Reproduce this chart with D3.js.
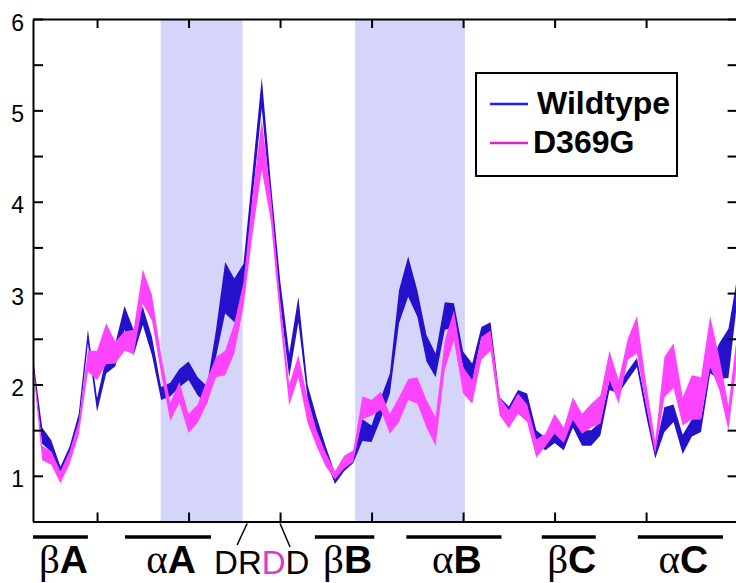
<!DOCTYPE html>
<html>
<head>
<meta charset="utf-8">
<script src="https://cdn.jsdelivr.net/npm/d3@7"></script>
<style>
  body { margin: 0; background: #fff; }
  svg { display: block; }
</style>
</head>
<body>
<svg id="chart" width="736" height="583"></svg>
<script>
// Residue positions along the segment (index from the first residue shown)
const residues = d3.range(78);

// Wildtype envelope (lower / upper bound per residue)
const wtLow  = [2.20,1.35,1.26,1.00,1.20,1.55,2.45,1.70,2.12,2.20,2.60,2.32,2.65,2.32,1.83,1.87,1.97,2.05,1.88,1.78,
                2.30,2.78,2.68,2.95,4.05,5.02,3.95,2.90,2.08,2.68,1.85,1.47,1.17,0.91,1.05,1.14,1.38,1.37,1.62,1.90,
                2.67,2.96,2.74,2.25,2.08,2.60,2.62,2.19,2.03,2.52,2.55,1.70,1.62,1.80,1.76,1.35,1.28,1.36,1.28,1.53,
                1.33,1.33,1.44,1.94,1.90,2.05,2.19,1.66,1.19,1.48,1.59,1.24,1.43,1.48,2.12,2.06,2.07,2.95];
const wtHigh = [2.30,1.53,1.39,1.10,1.32,1.68,2.60,1.85,2.30,2.45,2.86,2.60,2.85,2.52,1.97,2.02,2.17,2.25,2.08,1.98,
                2.60,3.34,3.16,3.32,4.33,5.36,4.20,3.15,2.34,2.96,2.00,1.64,1.32,1.03,1.15,1.22,1.62,1.55,1.85,2.12,
                3.03,3.40,3.03,2.54,2.34,2.90,2.89,2.36,2.23,2.63,2.68,1.86,1.76,1.94,1.90,1.50,1.42,1.50,1.42,1.64,
                1.50,1.50,1.59,2.05,2.00,2.15,2.29,1.78,1.30,1.75,1.78,1.45,1.62,1.62,2.22,2.45,2.61,3.20];

// D369G envelope (lower / upper bound per residue)
const mutLow  = [2.18,1.17,1.12,0.92,1.13,1.45,2.14,2.05,2.22,2.23,2.37,2.33,2.88,2.70,2.12,1.60,1.80,1.47,1.58,1.79,
                 2.08,2.10,2.34,2.85,3.65,4.35,3.78,2.72,1.77,2.08,1.58,1.32,1.10,0.96,1.08,1.15,1.62,1.66,1.72,1.46,
                 1.59,1.83,1.79,1.53,1.33,2.16,2.48,1.90,1.79,2.27,2.37,1.66,1.52,1.68,1.59,1.20,1.32,1.46,1.36,1.61,
                 1.46,1.53,1.57,2.05,1.79,2.27,2.34,1.76,1.24,1.86,1.96,1.55,1.62,1.62,2.19,1.94,1.50,2.30];
const mutHigh = [2.28,1.33,1.27,1.05,1.27,1.60,2.37,2.37,2.67,2.47,2.58,2.60,3.26,2.98,2.32,1.80,2.03,1.68,1.78,2.05,
                 2.30,2.37,2.67,3.12,4.08,4.90,4.08,2.95,2.00,2.32,1.85,1.50,1.25,1.05,1.22,1.28,1.87,1.83,1.92,1.68,
                 1.86,2.06,2.08,1.83,1.64,2.48,2.81,2.19,2.05,2.52,2.59,1.86,1.72,1.90,1.78,1.40,1.46,1.68,1.53,1.86,
                 1.68,1.79,1.88,2.37,2.05,2.50,2.75,2.02,1.38,2.30,2.45,1.86,2.10,2.08,2.75,2.30,1.77,2.60];

// Shaded residue ranges
const shadeFrom = [13.95, 35.2];
const shadeTo   = [22.9, 47.2];

// Secondary structure elements
const ssGreek  = ["β", "α", "β", "α", "β", "α"];
const ssLetter = ["A", "A", "B", "B", "C", "C"];
const ssFrom   = [0.0, 10.05, 30.8, 40.8, 55.6, 66.1];
const ssTo     = [6.0, 19.45, 37.3, 51.2, 61.5, 75.4];

// DRDD motif (third residue highlighted)
const motif = ["D", "R", "D", "D"];
const motifHighlight = 2;
const motifFrom = 23.4, motifTo = 27.0, motifCenter = 25;

// Axis ticks
const yTicks = d3.range(0.5, 6.01, 0.5);
const xTicks = [7, 17, 27, 37, 47, 57, 67];

// Legend
const seriesNames = ["Wildtype", "D369G"];

const colors = {
  wt: "#2311cc",
  mut: "#ff44ff",
  wtLegend: "#1f1fff",
  mutLegend: "#dd22cc",
  shade: "#d5d5fa",
  motifHi: "#d63cc8"
};

(function draw() {
  const svg = d3.select("#chart");
  const pLeft = 33, pTop = 19, pRight = 737.6, pBottom = 521.5;

  const x = d3.scaleLinear().domain([0, 77]).range([pLeft, pRight]);
  const y = d3.scaleLinear().domain([0.5, 6]).range([pBottom, pTop]);

  svg.append("defs").append("clipPath").attr("id", "plot")
    .append("rect").attr("x", pLeft).attr("y", pTop)
    .attr("width", pRight - pLeft).attr("height", pBottom - pTop);

  // Shaded helix regions
  svg.append("g").selectAll("rect").data(shadeFrom).join("rect")
    .attr("x", (d) => x(d))
    .attr("y", pTop)
    .attr("width", (d, i) => x(shadeTo[i]) - x(d))
    .attr("height", pBottom - pTop)
    .attr("fill", colors.shade);

  // Envelopes
  const band = (lo, hi) => d3.area()
    .x((d) => x(d))
    .y0((d) => y(lo[d]))
    .y1((d) => y(hi[d]));

  const plot = svg.append("g").attr("clip-path", "url(#plot)");
  plot.append("path").datum(residues).attr("d", band(wtLow, wtHigh)).attr("fill", colors.wt);
  plot.append("path").datum(residues).attr("d", band(mutLow, mutHigh)).attr("fill", colors.mut);

  // Axes
  const fontSans = "'Liberation Sans', Arial, Helvetica, sans-serif";
  const axisStyle = (g) => {
    g.selectAll(".domain").attr("stroke", "#000").attr("stroke-width", 2);
    g.selectAll(".tick line").attr("stroke", "#000").attr("stroke-width", 2);
  };

  svg.append("g").attr("transform", `translate(${pLeft},0)`)
    .call(d3.axisLeft(y).tickValues(yTicks).tickSize(-10).tickSizeOuter(0).tickPadding(9)
      .tickFormat((d) => Number.isInteger(d) ? d : ""))
    .call(axisStyle)
    .call((g) => g.selectAll("text").attr("font-family", fontSans).attr("font-size", 23)
      .attr("fill", "#000").attr("dy", "0.48em"));

  svg.append("g").attr("transform", `translate(${pRight},0)`)
    .call(d3.axisRight(y).tickValues(yTicks).tickSize(-10).tickSizeOuter(0).tickFormat(""))
    .call(axisStyle);

  svg.append("g").attr("transform", `translate(0,${pTop})`)
    .call(d3.axisTop(x).tickValues(xTicks).tickSize(-9).tickSizeOuter(0).tickFormat(""))
    .call(axisStyle);

  svg.append("g").attr("transform", `translate(0,${pBottom})`)
    .call(d3.axisBottom(x).tickValues(xTicks).tickSize(-9).tickSizeOuter(0).tickFormat(""))
    .call(axisStyle);

  // Legend
  const legend = svg.append("g");
  legend.append("rect").attr("x", 476).attr("y", 73).attr("width", 201).attr("height", 103)
    .attr("fill", "#fff").attr("stroke", "#000").attr("stroke-width", 2);
  const legendColors = [colors.wtLegend, colors.mutLegend];
  const legendY = [104, 143];
  const legendTextX = [537, 533];
  seriesNames.forEach((name, i) => {
    legend.append("line").attr("x1", 490).attr("x2", 528)
      .attr("y1", legendY[i]).attr("y2", legendY[i])
      .attr("stroke", legendColors[i]).attr("stroke-width", 2.5);
    legend.append("text").attr("x", legendTextX[i]).attr("y", legendY[i] + 10)
      .attr("font-family", fontSans).attr("font-weight", "bold").attr("font-size", 32)
      .attr("fill", "#000").text(name);
  });

  // Secondary structure bars and labels
  const ss = svg.append("g");
  ssFrom.forEach((from, i) => {
    ss.append("line").attr("x1", x(from)).attr("x2", x(ssTo[i]))
      .attr("y1", 537).attr("y2", 537).attr("stroke", "#000").attr("stroke-width", 3.3);
    const t = ss.append("text")
      .attr("x", (x(from) + x(ssTo[i])) / 2 + 3).attr("y", 573)
      .attr("text-anchor", "middle").attr("fill", "#000");
    t.append("tspan").attr("font-family", "'Liberation Serif', 'Times New Roman', serif")
      .attr("font-size", 41).text(ssGreek[i]);
    t.append("tspan").attr("font-family", fontSans).attr("font-weight", "bold")
      .attr("font-size", 39).text(ssLetter[i]);
  });

  // DRDD motif label with leader lines
  ss.append("line").attr("x1", x(motifFrom)).attr("y1", pBottom + 2)
    .attr("x2", x(motifFrom) - 10).attr("y2", 545).attr("stroke", "#000").attr("stroke-width", 1.5);
  ss.append("line").attr("x1", x(motifTo)).attr("y1", pBottom + 2)
    .attr("x2", x(motifTo) + 10).attr("y2", 547).attr("stroke", "#000").attr("stroke-width", 1.5);
  const m = ss.append("text").attr("x", x(motifCenter)).attr("y", 574)
    .attr("text-anchor", "middle").attr("font-family", fontSans).attr("font-size", 33);
  motif.forEach((c, i) => {
    m.append("tspan").attr("fill", i === motifHighlight ? colors.motifHi : "#000").text(c);
  });
})();
</script>
</body>
</html>
